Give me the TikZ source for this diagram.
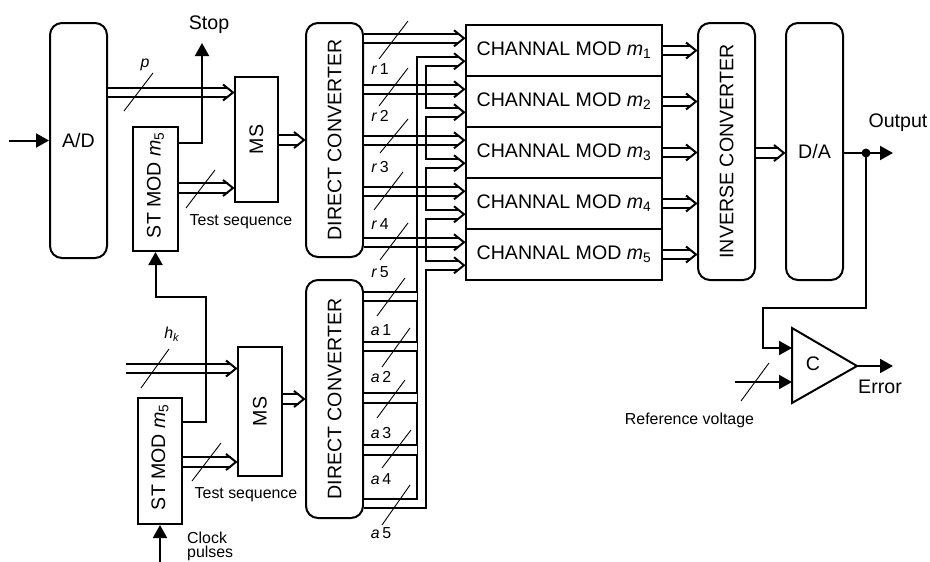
\documentclass[tikz,border=0pt]{standalone}
\usepackage{fontspec}
\setmainfont{Liberation Sans}
\usetikzlibrary{arrows.meta,calc}
\newcommand\fbig{\fontsize{19.6}{23}\selectfont}
\newcommand\fsmall{\fontsize{15.9}{18}\selectfont}
\newcommand\darr[2]{\draw[dbl] #1 -- #2; \pic at #2 {hd};}
\begin{document}
\begin{tikzpicture}[x=1pt,y=-1pt,
  box/.style={draw, line width=2pt, inner sep=0pt},
  rbox/.style={box, rounded corners=12pt},
  lbl/.style={font=\fbig, inner sep=0pt},
  slbl/.style={font=\fsmall, inner sep=0pt},
  dbln/.style={line width=2pt, double distance=7.5pt},
  dbl/.style={dbln, shorten >=6pt},
  hd/.pic={\draw[line width=2pt, line join=miter] (-11,-8) -- (-1,0) -- (-11,8);},
  sig/.style={line width=2pt, -{Triangle[length=13pt,width=14pt]}},
  wire/.style={line width=2pt},
  slash/.style={line width=0.9pt},
]
\useasboundingbox (0,0) rectangle (930,562);
% ---------------- blocks
\node[rbox, minimum width=57pt, minimum height=235pt, font=\fbig] (ad) at (78.5,140.5) {A/D};
\node[box, minimum width=43pt, minimum height=125pt] (ms1) at (256.5,139.5) {};
\node[box, minimum width=45pt, minimum height=124pt] (st1) at (155.5,189) {};
\node[rbox, minimum width=57pt, minimum height=234pt] (dc1) at (334.5,140) {};
\node[box, minimum width=44pt, minimum height=129pt] (ms2) at (260,411.5) {};
\node[box, minimum width=44pt, minimum height=126pt] (st2) at (160,461) {};
\node[rbox, minimum width=57pt, minimum height=238pt] (dc2) at (334.5,399) {};
\foreach \i/\c in {1/50.5,2/101.5,3/152.5,4/203.5,5/254.5}
  \node[box, minimum width=196pt, minimum height=51pt, font=\fbig] (ch\i) at (564,\c) {CHANNAL MOD \textit{m}\textsubscript{\i}};
\node[rbox, minimum width=57pt, minimum height=257pt] (ic) at (726.5,151.5) {};
\node[rbox, minimum width=57pt, minimum height=257pt, font=\fbig] (da) at (814.5,151.5) {D/A};
% rotated labels
\node[lbl, rotate=90] at (ms1) {MS};
\node[lbl, rotate=90] at (ms2) {MS};
\node[lbl, rotate=90] at (155.5,185) {ST MOD \textit{m}\textsubscript{5}};
\node[lbl, rotate=90] at (160,457) {ST MOD \textit{m}\textsubscript{5}};
\node[lbl, rotate=90] at (dc1) {DIRECT CONVERTER};
\node[lbl, rotate=90] at (dc2) {DIRECT CONVERTER};
\node[lbl, rotate=90] at (ic) {INVERSE CONVERTER};
% comparator
\coordinate (cin1) at (792,348);
\coordinate (cin2) at (792,382);
\coordinate (cout) at (857,366);
\draw[wire] (792,328) -- (cout) -- (792,403) -- cycle;
\node[lbl] (cl) at (813,364) {C};
% ---------------- helper coordinates
\foreach \i in {1,...,5}
  \path ($(ch\i.west)+(0,-12.25)$) coordinate (u\i) ($(ch\i.west)+(0,10.75)$) coordinate (l\i);
\coordinate (adin) at (9,140.5);
\coordinate (stop) at (202,43);
\coordinate (hin) at (126,368.5);
\coordinate (clk) at (160,562);
\coordinate (bb) at (421.5,503.5);
\coordinate (bx) at (425.3,0);
\coordinate (jn) at (866,153);
\coordinate (out) at (893,153);
\coordinate (fb) at (763,308);
\coordinate (ref) at (735,382);
\coordinate (err) at (893,366);
\coordinate (fb2) at (206,297);
% ---------------- connectors (left part)
\draw[sig] (adin) -- (ad.west);
\darr{(ad.east |- 0,92.5)}{(ms1.west |- 0,92.5)}
\darr{(st1.east |- 0,188)}{(ms1.west |- 0,188)}
\draw[sig] (st1.east |- 0,143) -| (stop);
\darr{(ms1.east |- 0,140)}{(dc1.west |- 0,140)}
\darr{(hin)}{(ms2.west |- hin)}
\darr{(st2.east |- 0,462)}{(ms2.west |- 0,462)}
\draw[sig] (st2.east |- 0,422) -| (fb2) -| (st1.south);
\darr{(ms2.east |- 0,399)}{(dc2.west |- 0,399)}
\draw[sig] (clk) -- (st2.south);
% ---------------- bus
\draw[dbl] (dc2.east |- bb) -- (bb) -- (bb |- l1) -- (l1);
\pic at (l1) {hd};
\foreach \y in {296.7,346.7,398,450}
  \draw[dbln] (dc2.east |- 0,\y) -- (417.3,\y);
\foreach \i in {2,...,5}
  {\darr{(bx |- l\i)}{(l\i)}}
\foreach \i in {1,...,5}
  {\darr{(dc1.east |- u\i)}{(u\i)}}
\foreach \a in {81,132,183,234}
  \draw[wire] (416.75,\a) -- (416.75,\a+17) (426.25,\a) -- (426.25,\a+17);
% ---------------- right part
\foreach \i in {1,...,5}
  {\darr{(ch\i.east)}{(ic.west |- ch\i.east)}}
\darr{(ic.east |- jn)}{(da.west |- jn)}
\draw[sig] (da.east |- jn) -- (out);
\fill (jn) circle (4.5pt);
\draw[sig] (jn) |- (fb) |- (cin1);
\draw[sig] (ref) -- (cin2);
\draw[sig] (cout) -- (err);
% ---------------- slashes
\draw[slash] (124,111) -- (153,73);
\draw[slash] (186,208) -- (215,170);
\draw[slash] (141,388) -- (169,349);
\draw[slash] (192,481) -- (221,443);
\draw[slash] (741,401) -- (769,363);
\draw[slash] (379,59) -- (408,21);
\draw[slash] (379,106) -- (408,68);
\draw[slash] (380,153) -- (408,119);
\draw[slash] (374,210) -- (403,172);
\draw[slash] (380,260) -- (408,223);
\draw[slash] (377,316) -- (405,278);
\draw[slash] (382,367) -- (410,328);
\draw[slash] (377,418) -- (405,380);
\draw[slash] (382,468) -- (411,430);
\draw[slash] (382,525) -- (410,485);
% ---------------- labels
\node[lbl] at (209,25) {Stop};
\node[lbl] at (898,123) {Output};
\node[lbl] at (880,387) {Error};
\node[slbl] at (241,222) {Test sequence};
\node[slbl] at (246,495) {Test sequence};
\node[slbl] at (689.5,420) {Reference voltage};
\node[slbl, align=left, anchor=south west, font=\fontsize{15.9}{14.5}\selectfont] at (187,561) {Clock\\pulses};
\node[slbl] at (145,65) {\textit{p}};
\node[slbl] at (172,334) {\textit{h}\textsubscript{\textit{k}}};
\foreach \n/\y in {1/69,2/116,3/167,4/224,5/272}
  \node[slbl] at (380,\y) {\textit{r}\,\n};
\foreach \n/\y in {1/330,2/377,3/433,4/479,5/533}
  \node[slbl] at (381,\y) {\textit{a}\,\n};
\end{tikzpicture}
\end{document}
